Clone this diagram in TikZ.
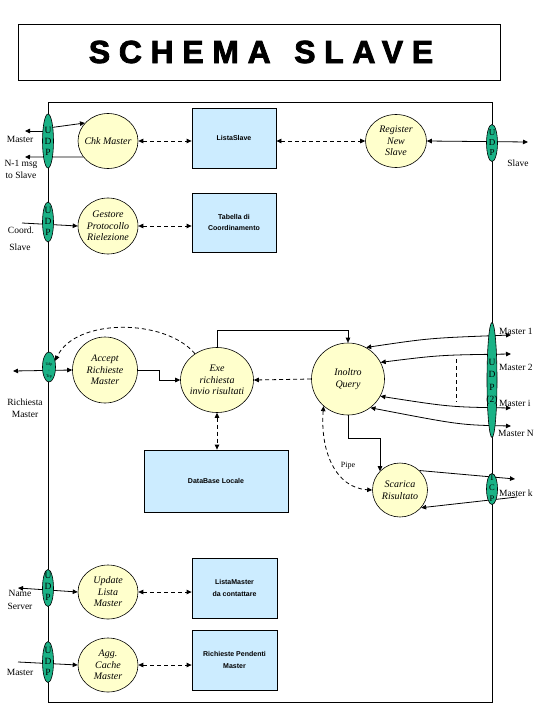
\documentclass[tikz,border=0pt]{standalone}
\usepackage{fontspec}
\setmainfont{Liberation Serif}
\setsansfont{Liberation Sans}
\newfontfamily\titlefont[LetterSpace=27,FakeBold=2.5]{Liberation Sans}
\usetikzlibrary{shapes.geometric,arrows.meta}
\definecolor{procfill}{RGB}{255,255,204}
\definecolor{storefill}{RGB}{204,236,255}
\definecolor{portfill}{RGB}{26,178,134}
\pgfdeclarelayer{bg}
\pgfsetlayers{bg,main}
\tikzset{
  >={Triangle[length=5pt,width=4.5pt]},
  conn/.style={line width=0.8pt},
  dsh/.style={dash pattern=on 4pt off 3pt},
  proc/.style={ellipse, draw, line width=0.6pt, fill=procfill, inner xsep=-3pt, inner ysep=0pt,
    align=center, font=\fontsize{10}{11.5}\selectfont\itshape, minimum width=60pt, minimum height=55pt},
  store/.style={rectangle, draw, line width=0.8pt, fill=storefill, inner sep=0pt, align=center,
    font=\sffamily\bfseries\fontsize{7}{11.5}\selectfont},
  port/.style={ellipse, draw, line width=0.6pt, fill=portfill, inner sep=0pt, minimum width=11pt},
  ptxt/.style={inner sep=0pt, align=center, font=\fontsize{9.5}{11}\selectfont},
  lbl/.style={inner sep=0pt, align=center, font=\fontsize{9.5}{12}\selectfont},
}
\begin{document}
\begin{tikzpicture}[x=1pt,y=-1pt]
\useasboundingbox (0,0) rectangle (540,720);
% title
\node[draw, line width=1pt, minimum width=482pt, minimum height=56pt, inner sep=0pt,
  font=\titlefont\bfseries\fontsize{32}{32}\selectfont] (title) at (259,52) {\kern4pt SCHEMA\hspace{6pt} SLAVE};
% stores
\node[store, minimum width=84pt, minimum height=60pt] (ls) at (234,138) {ListaSlave};
\node[store, minimum width=84pt, minimum height=59pt] (tab) at (234,222.5) {Tabella di\\Coordinamento};
\node[store, minimum width=144pt, minimum height=62pt] (db) at (216,481) {DataBase Locale};
\node[store, minimum width=85pt, minimum height=60pt] (lm) at (234.5,588) {ListaMaster\\da contattare};
\node[store, minimum width=85pt, minimum height=60pt] (rp) at (234.5,660) {Richieste Pendenti\\Master};
% processes
\node[proc] (chk) at (108,141) {Chk Master};
\node[proc, minimum height=56pt] (gest) at (108,226) {Gestore\\Protocollo\\Rielezione};
\node[proc, minimum width=61pt, minimum height=53pt] (reg) at (396,141) {Register\\New\\Slave};
\node[proc, minimum width=65pt, minimum height=66pt] (acc) at (105,370) {Accept\\Richieste\\Master};
\node[proc, minimum width=73pt, minimum height=65pt] (exe) at (217,380) {Exe\\richiesta\\invio risultati};
\node[proc, minimum width=73pt, minimum height=72pt] (inq) at (348,379) {Inoltro\\Query};
\node[proc, minimum width=55pt, minimum height=54pt] (sca) at (400,490) {Scarica\\Risultato};
\node[proc, minimum height=54pt] (upd) at (108,592) {Update\\Lista\\Master};
\node[proc, minimum height=54pt] (agg) at (108,665) {Agg.\\Cache\\Master};
% ports
\node[port, minimum height=54pt] (udp1) at (48,141) {};
\node[port, minimum height=40pt] (udp2) at (48,222) {};
\node[port, minimum width=13pt, minimum height=30pt] (udp3) at (49,367) {};
\node[port, minimum height=37pt] (udp4) at (48,588) {};
\node[port, minimum height=41pt] (udp5) at (48,662) {};
\node[port, minimum height=37pt] (udp6) at (492,143) {};
\node[port, minimum width=10pt, minimum height=115pt] (udp7) at (492,380) {};
\node[port, minimum height=31pt] (udp8) at (492,489) {};
\node[ptxt] (t1) at (48,141.5) {U\\D\\P};
\node[ptxt] (t2) at (48,221.5) {U\\D\\P};
\node[ptxt, font=\fontsize{4}{6}\selectfont] (t3) at (49,371) {Udp\\-\\Tcp};
\node[ptxt] (t4) at (48,586) {U\\D\\P};
\node[ptxt] (t5) at (48,661) {U\\D\\P};
\node[ptxt, font=\fontsize{9}{10}\selectfont] (t6) at (492,143) {U\\D\\P};
\node[ptxt, font=\fontsize{9.5}{12.5}\selectfont] (t7) at (492,382) {U\\D\\P\\(2)};
\node[ptxt, font=\fontsize{8.5}{10.5}\selectfont] (t8) at (492,488) {T\\C\\P};
% coordinates for free ends
\coordinate (mst) at (25,131);
\coordinate (mst0) at (48,128);
\coordinate (nms) at (25,157);
\coordinate (slv) at (528,142);
\coordinate (crd) at (22,223);
\coordinate (rqm) at (13,371);
\coordinate (bnd) at (380,438);
\coordinate (m1) at (511,335);
\coordinate (m2) at (511,354);
\coordinate (mi) at (511,408);
\coordinate (mn) at (511,426);
\coordinate (dA) at (456,359);
\coordinate (dB) at (456,402);
\coordinate (mk1) at (515,479);
\coordinate (mk2) at (517,497);
\coordinate (nsv) at (18,588);
\coordinate (mag) at (18,662);
% labels
\node[lbl] (lmst) at (20,139) {Master};
\node[lbl] (lnms) at (21,169) {N-1 msg\\to Slave};
\node[lbl] (lslv) at (518,163) {Slave};
\node[lbl] (lcrd) at (21,230) {Coord.};
\node[lbl] (lcsl) at (20,247) {Slave};
\node[lbl] (lrqm) at (25,408) {Richiesta\\Master};
\node[inner sep=0pt, font=\fontsize{8}{9}\selectfont] (lpipe) at (348,466) {Pipe};
\node[lbl, anchor=west] (lm1) at (499,331) {Master 1};
\node[lbl, anchor=west] (lm2) at (499,367) {Master 2};
\node[lbl, anchor=west] (lmi) at (499,403) {Master i};
\node[lbl, anchor=west] (lmn) at (498,433) {Master N};
\node[lbl, anchor=west] (lmk) at (499,493) {Master k};
\node[lbl, font=\fontsize{9.5}{13}\selectfont] (lnsv) at (20,600) {Name\\Server};
\node[lbl] (lmag) at (20,672) {Master};
\begin{pgfonlayer}{bg}
\draw[line width=1pt] (48,102) rectangle (492,702);
% top left
\draw[conn,->] (udp1.center |- mst) -- (mst);
\draw[conn,->] (mst0) -- (chk.142);
\draw[conn,->] (chk.213) -- (nms);
\draw[conn,dsh,<->] (chk.east) -- (ls.west |- chk.east);
\draw[conn,dsh,<->] (ls.east |- reg.west) -- (reg.west);
\draw[conn,<->] (reg.east) -- (slv);
% gestore
\draw[conn,->] (crd) -- (gest.west);
\draw[conn,dsh,<->] (gest.east) -- (tab.west |- gest.east);
% accept / exe
\draw[conn,<->] (rqm) -- (acc.west);
\draw[conn,->] (acc.east) -- ++(22,0) |- (exe.west);
\draw[conn,dsh,->] (exe.130) .. controls (165,318) and (75,318) .. (udp3.45);
\draw[conn,->] (exe.north) -- ++(0,-17) -| (inq.north);
\draw[conn,dsh,->] (inq.west) -- (exe.east);
\draw[conn,dsh,<->] (exe.south) -- (exe.south |- db.north);
% inoltro / scarica
\draw[conn,->] (inq.south) |- (bnd) -- (bnd |- sca.137);
\draw[conn,dsh,<->] (inq.228) .. controls (320,450) and (335,488) .. (sca.west);
\draw[conn,<->] (inq.60) .. controls (430,338) .. (m1);
\draw[conn,<->] (inq.27) .. controls (440,355) .. (m2);
\draw[conn,<->] (inq.-28) .. controls (450,407) .. (mi);
\draw[conn,<->] (inq.-52) .. controls (460,425) .. (mn);
\draw[conn,dsh] (dA) -- (dB);
\draw[conn,->] (sca.45) -- (mk1);
\draw[conn,->] (mk2) -- (sca.-40);
% bottom
\draw[conn,<->] (nsv) -- (upd.west);
\draw[conn,dsh,<->] (upd.east) -- (lm.west |- upd.east);
\draw[conn,->] (mag) -- (agg.west);
\draw[conn,dsh,<->] (agg.east) -- (rp.west |- agg.east);
\end{pgfonlayer}
\end{tikzpicture}
\end{document}
